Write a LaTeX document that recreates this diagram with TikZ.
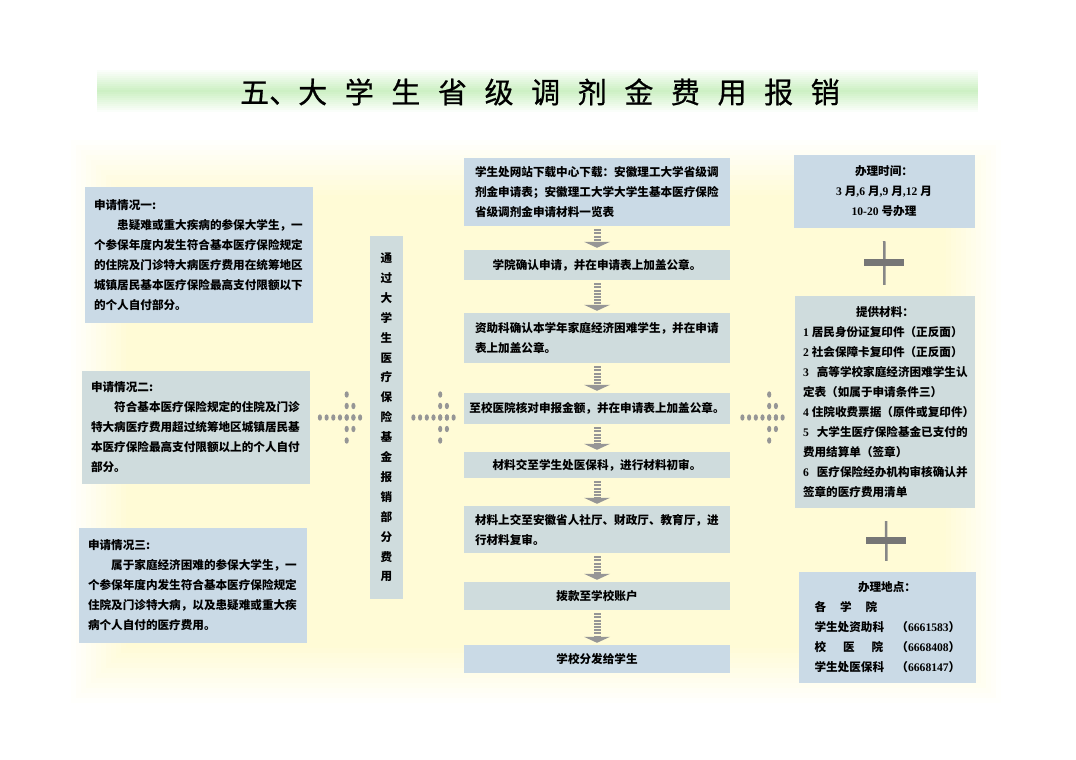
\documentclass[tikz,border=0pt]{standalone}
\usepackage{fontspec}
\setmainfont{Noto Sans CJK SC}
\newfontfamily\numfam{Liberation Serif}
\newfontfamily\titlefam{Noto Sans CJK SC}[FakeBold=0.7]
\usetikzlibrary{arrows.meta,calc}
\definecolor{boxgray}{RGB}{207,220,221}
\definecolor{boxblue}{RGB}{202,218,230}
\definecolor{arrowgray}{RGB}{150,150,150}
\definecolor{dotgray}{RGB}{150,150,150}
\definecolor{plusgray}{RGB}{135,135,135}
\definecolor{bargray}{RGB}{118,118,118}
\definecolor{bgyellow}{RGB}{255,251,212}
\definecolor{titlegreen}{RGB}{204,240,195}
\newcommand{\bodyfont}{\fontsize{11.6}{20}\selectfont\bfseries}
\newcommand{\tg}{\hspace{17.6pt}}
\newcommand{\gap}{\nobreak\hspace{8pt}}

\tikzset{
  casebox/.style={fill=boxgray, text width=210pt, inner xsep=9pt, align=left, font=\bodyfont},
  stepbox/.style={fill=boxgray, minimum width=266pt, align=center, font=\bodyfont},
  fundbox/.style={fill=boxgray, minimum width=33pt, minimum height=363pt, align=center,
    font=\fontsize{11.6}{19.9}\selectfont\bfseries},
  sidebox/.style={fill=boxblue, font=\bodyfont},
  flowarrow/.style={draw=arrowgray, line width=7pt, dash pattern=on 2pt off 1.2pt,
    shorten <=3pt, shorten >=2pt, -{Triangle[width=26pt,length=6pt,line width=0pt]}},
  plusline/.style={draw=plusgray, line width=2.5pt, shorten <=13pt, shorten >=11pt},
  plusbar/.style={fill=bargray, minimum width=40pt, minimum height=7pt, inner sep=0pt},
  dotarrow/.pic={
    \foreach \i in {-3,...,3} \fill[dotgray] (\i*6.7,0) ellipse (2.1pt and 3.2pt);
    \foreach \j in {-2,...,2} \fill[dotgray] (6.7,\j*11.5) ellipse (2.1pt and 3.2pt);
    \foreach \j in {-1,0,1} \fill[dotgray] (13.4,\j*11.5) ellipse (2.1pt and 3.2pt);
  }
}

\begin{document}
\begin{tikzpicture}[x=1pt,y=-1pt]
\useasboundingbox (0,0) rectangle (1076,760);
% soft background
\foreach \k [evaluate=\k as \p using int(\k*8)] in {0,...,12}
  \fill[bgyellow!\p!white] (66+5*\k,135+5*\k) rectangle (1006-5*\k,708-5*\k);

% Title
\foreach \k [evaluate=\k as \p using int(\k*9)] in {0,...,11}
  \fill[titlegreen!\p!white] (97,68+2*\k) rectangle (978,114-2*\k);
\node[font=\titlefam\fontsize{29}{29}\selectfont] (title) at (540,92)
  {五、大\tg 学\tg 生\tg 省\tg 级\tg 调\tg 剂\tg 金\tg 费\tg 用\tg 报\tg 销};

% Cases
\node[casebox, fill=boxblue, minimum height=136pt] (case1) at (199,255)
  {申请情况一:\\\hspace*{2em}患疑难或重大疾病的参保大学生，一\\个参保年度内发生符合基本医疗保险规定\\的住院及门诊特大病医疗费用在统筹地区\\城镇居民基本医疗保险最高支付限额以下\\的个人自付部分。};
\node[casebox, minimum height=113pt] (case2) at (196,427.5)
  {申请情况二:\\\hspace*{2em}符合基本医疗保险规定的住院及门诊\\特大病医疗费用超过统筹地区城镇居民基\\本医疗保险最高支付限额以上的个人自付\\部分。};
\node[casebox, fill=boxblue, minimum height=115pt] (case3) at (193,585.5)
  {申请情况三:\\\hspace*{2em}属于家庭经济困难的参保大学生，一\\个参保年度内发生符合基本医疗保险规定\\住院及门诊特大病，以及患疑难或重大疾\\病个人自付的医疗费用。};

% Fund
\node[fundbox] (fund) at (386.5,417.5)
  {通\\过\\大\\学\\生\\医\\疗\\保\\险\\基\\金\\报\\销\\部\\分\\费\\用};

% Steps
\node[stepbox, fill=boxblue, minimum height=68pt, text width=244pt, align=left] (down) at (597,192)
  {学生处网站下载中心下载：安徽理工大学省级调\\剂金申请表；安徽理工大学大学生基本医疗保险\\省级调剂金申请材料一览表};
\node[stepbox, minimum height=30pt] (apply) at (597,265) {学院确认申请，并在申请表上加盖公章。};
\node[stepbox, minimum height=50pt, text width=244pt, align=left] (aid) at (597,338)
  {资助科确认本学年家庭经济困难学生，并在申请\\表上加盖公章。};
\node[stepbox, minimum height=31pt] (hosp) at (597,408.5) {至校医院核对申报金额，并在申请表上加盖公章。};
\node[stepbox, minimum height=26pt] (first) at (597,465) {材料交至学生处医保科，进行材料初审。};
\node[stepbox, minimum height=47pt, text width=244pt, align=left] (second) at (597,529.5)
  {材料上交至安徽省人社厅、财政厅、教育厅，进\\行材料复审。};
\node[stepbox, minimum height=28pt] (pay) at (597,596) {拨款至学校账户};
\node[stepbox, fill=boxblue, minimum height=28pt] (hand) at (597,659) {学校分发给学生};

\foreach \a/\b in {down/apply, apply/aid, aid/hosp, hosp/first, first/second, second/pay, pay/hand}
  \draw[flowarrow] (\a) -- (\b);

% Side info
\node[sidebox, minimum width=181pt, minimum height=73pt, align=center] (time) at (884,191.5)
  {办理时间：\\{\numfam 3 }月{\numfam ,6 }月{\numfam ,9 }月{\numfam ,12 }月\\{\numfam 10-20 }号办理};
\node[sidebox, fill=boxgray, minimum height=212pt, text width=164pt, inner xsep=8pt, align=left] (mat) at (885,402)
  {\makebox[164pt]{提供材料：}\\
   {\numfam 1}\nobreak\hspace{3pt}居民身份证复印件（正反面）\\
   {\numfam 2}\nobreak\hspace{3pt}社会保障卡复印件（正反面）\\
   {\numfam 3}\gap 高等学校家庭经济困难学生认\\
   定表（如属于申请条件三）\\
   {\numfam 4}\nobreak\hspace{3pt}住院收费票据（原件或复印件）\\
   {\numfam 5}\gap 大学生医疗保险基金已支付的\\
   费用结算单（签章）\\
   {\numfam 6}\gap 医疗保险经办机构审核确认并\\
   签章的医疗费用清单};
\node[sidebox, minimum height=111pt, text width=145pt, inner xsep=16pt, align=left] (place) at (887,627.5)
  {\makebox[145pt]{办理地点：}\\
   各\hspace{14pt}学\hspace{14pt}院\\
   \makebox[82pt][l]{学生处资助科}（{\numfam 6661583}）\\
   \makebox[82pt][l]{校\hspace{17pt}医\hspace{17pt}院}（{\numfam 6668408}）\\
   \makebox[82pt][l]{学生处医保科}（{\numfam 6668147}）};

\draw[plusline] (time) -- node[plusbar] {} (mat);
\draw[plusline] (mat) -- node[plusbar] {} (place);

% Dotted arrows
\pic at ($(case2.east |- fund)!0.5!(fund.west)$) {dotarrow};
\pic at ($(fund.east)!0.5!(hosp.west |- fund)$) {dotarrow};
\pic at ($(hosp.east |- fund)!0.5!(mat.west |- fund)$) {dotarrow};
\end{tikzpicture}
\end{document}
